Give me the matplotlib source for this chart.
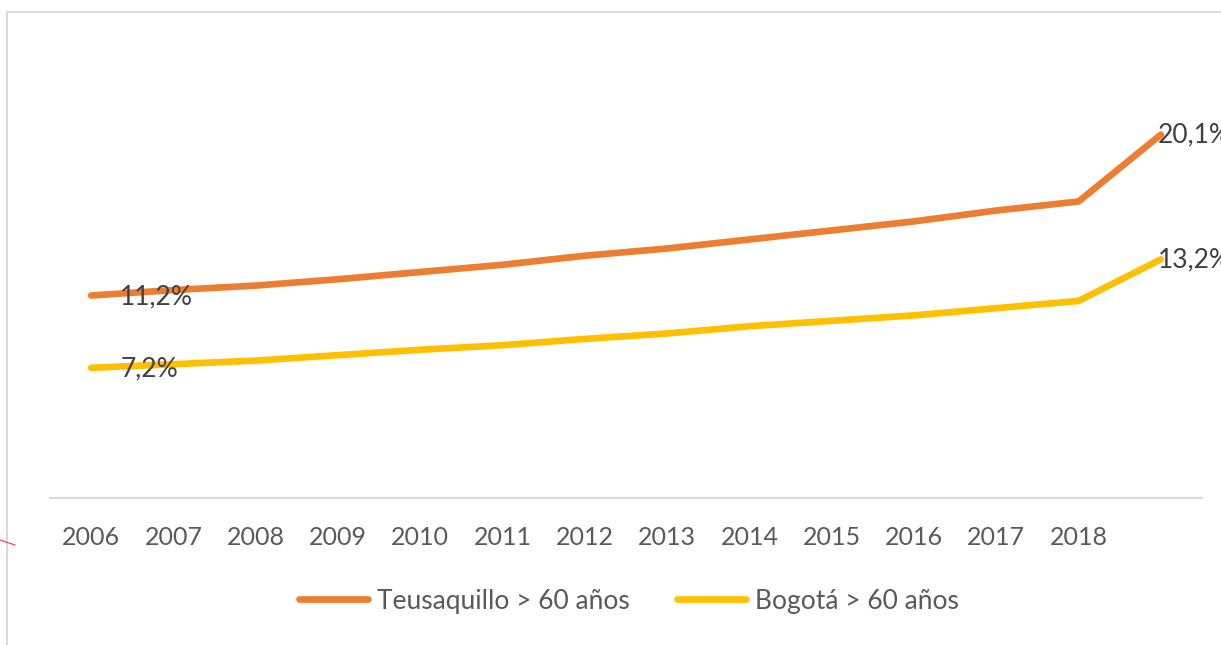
import matplotlib.pyplot as plt
from matplotlib.patches import Rectangle
from matplotlib.lines import Line2D

years = ["2006", "2007", "2008", "2009", "2010", "2011", "2012",
         "2013", "2014", "2015", "2016", "2017", "2018", ""]
teusaquillo = [11.2, 11.5, 11.75, 12.1, 12.5, 12.9, 13.4,
               13.8, 14.3, 14.8, 15.3, 15.9, 16.4, 20.1]
bogota = [7.2, 7.4, 7.6, 7.9, 8.2, 8.45, 8.8,
          9.1, 9.5, 9.8, 10.1, 10.5, 10.9, 13.2]

text_color = "#595959"
orange = "#ED7D31"
yellow = "#FFC000"
plt.rcParams["font.family"] = ["Lato", "DejaVu Sans"]

fig = plt.figure(figsize=(12.21, 6.45), dpi=100)
ax = fig.add_axes([50 / 1221, 1 - 498 / 645, 1152 / 1221, 452 / 645])

x = list(range(len(years)))
ax.plot(x, teusaquillo, color=orange, lw=4.8, solid_capstyle="round",
        solid_joinstyle="round", label="Teusaquillo > 60 años")
ax.plot(x, bogota, color=yellow, lw=4.8, solid_capstyle="round",
        solid_joinstyle="round", label="Bogotá > 60 años")

# data labels on first and last points
for series in (teusaquillo, bogota):
    ax.annotate(f"{series[0]:.1f}%".replace(".", ","), (0, series[0]),
                xytext=(21, -1), textcoords="offset points",
                ha="left", va="center", fontsize=19, color="#404040")
    ax.annotate(f"{series[-1]:.1f}%".replace(".", ","), (13, series[-1]),
                xytext=(-2, 0), textcoords="offset points",
                ha="left", va="center", fontsize=19, color="#404040",
                annotation_clip=False)

ax.set_xlim(-0.5, 13.5)
ax.set_ylim(0, 25)
ax.set_xticks(x)
ax.set_xticklabels(years, fontsize=18, color=text_color)
ax.tick_params(axis="x", length=0, pad=20)
ax.set_yticks([])
for side in ("top", "right", "left"):
    ax.spines[side].set_visible(False)
ax.spines["bottom"].set_color("#D9D9D9")
ax.spines["bottom"].set_linewidth(1.5)

handles = [Line2D([], [], color=orange, lw=4.8, solid_capstyle="round"),
           Line2D([], [], color=yellow, lw=4.8, solid_capstyle="round")]
fig.legend(handles, ["Teusaquillo > 60 años", "Bogotá > 60 años"],
           loc="center", bbox_to_anchor=(629 / 1221, 1 - 601 / 645),
           ncol=2, frameon=False, fontsize=19, labelcolor=text_color,
           handlelength=2.6, columnspacing=1.8, handletextpad=0.35)

# outer chart frame
fig.patches.append(Rectangle((7 / 1221, -0.1), 1.2, 1 - 12 / 645 + 0.1,
                             transform=fig.transFigure, fill=False,
                             edgecolor="#D9D9D9", lw=1.5))
fig.add_artist(Line2D([0, 15 / 1221], [1 - 540 / 645, 1 - 545 / 645],
                      color="#E0403A", lw=0.8))

fig.savefig("out.png", dpi=100, facecolor="white")
